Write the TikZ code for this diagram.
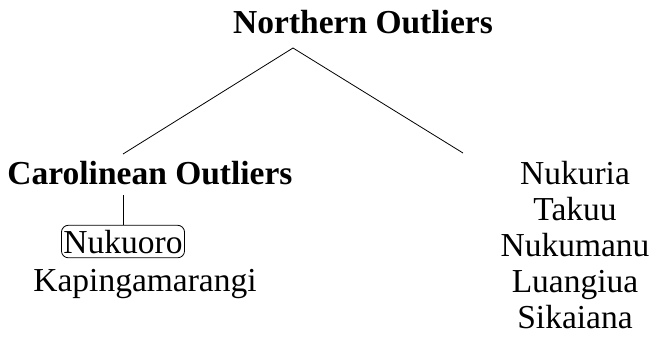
\documentclass[tikz,border=0pt]{standalone}
\usepackage{fontspec}
\setmainfont{Liberation Serif}
\begin{document}
\begin{tikzpicture}[x=1pt,y=-1pt,
  lbl/.style={inner sep=0pt,anchor=base,font=\fontsize{33.5}{36}\selectfont},
  hd/.style={lbl,font=\fontsize{33.5}{36}\selectfont\bfseries},
  edge/.style={draw=black,line width=0.8pt},
  boxed/.style={lbl,draw,rounded corners=7pt,inner xsep=2pt,inner ysep=4.5pt,line width=0.8pt}]
\useasboundingbox (0,0) rectangle (650,337);
\node[hd] (root) at (363,34) {Northern Outliers};
\node[hd] (car) at (150,184) {Carolinean Outliers};
\node[lbl,align=center,anchor=base] (right) at (575,328) {Nukuria\\Takuu\\Nukumanu\\Luangiua\\Sikaiana};
\node[boxed] (nuk) at (123,253) {Nukuoro};
\node[lbl] (kap) at (145,291) {Kapingamarangi};
\coordinate (apex) at (293,48);
\coordinate (lend) at (123,154);
\coordinate (rend) at (463,153);
\coordinate (vtop) at (123,195);
\draw[edge] (lend) -- (apex) -- (rend);
\draw[edge] (vtop) -- (nuk.north);
\end{tikzpicture}
\end{document}
